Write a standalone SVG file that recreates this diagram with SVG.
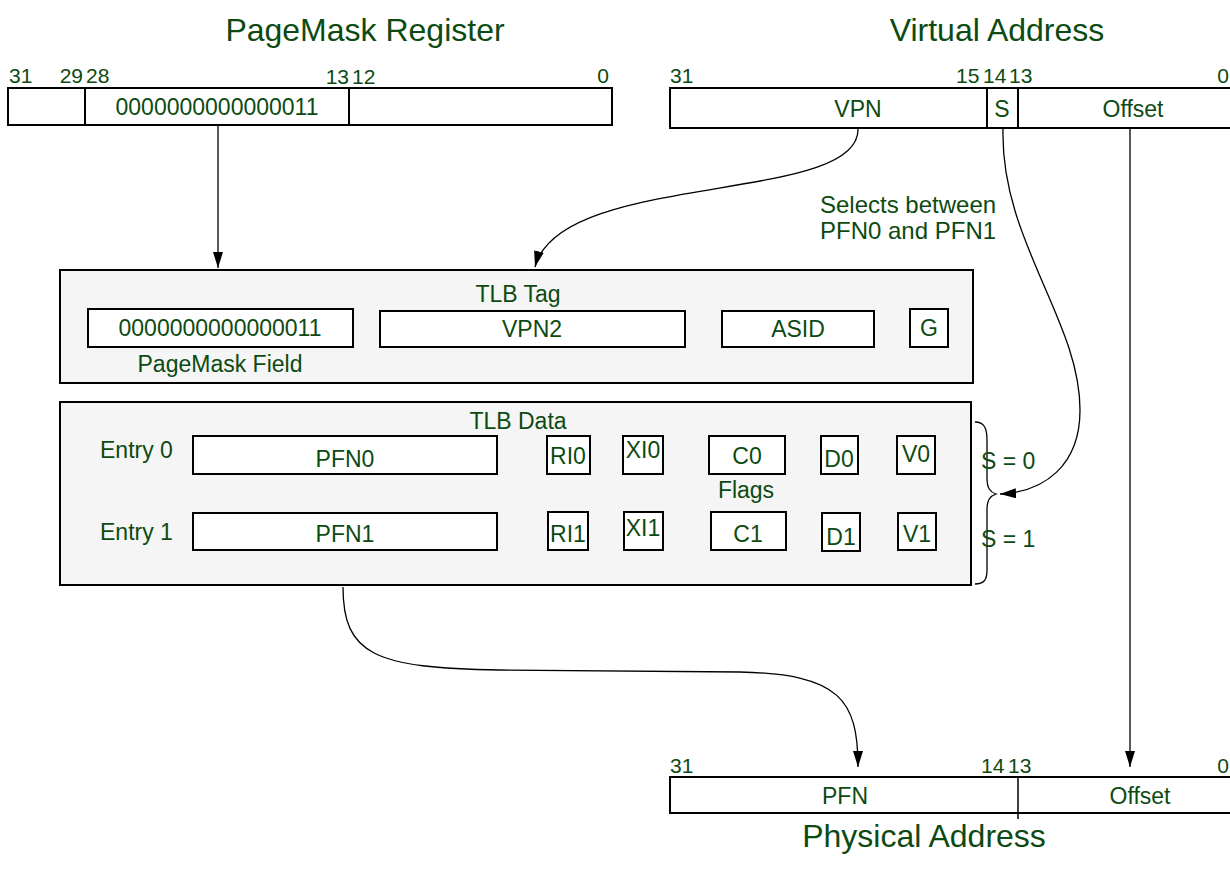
<svg xmlns="http://www.w3.org/2000/svg" width="1230" height="869" viewBox="0 0 1230 869">
<defs>
<style>
text{font-family:"Liberation Sans",Arial,sans-serif;fill:#0d4a12}
.t{font-size:32px;text-anchor:middle}
.n{font-size:21px}
.ne{font-size:21px;text-anchor:end}
.b{font-size:23px}
.m{font-size:23px;text-anchor:middle}
.s{font-size:24px}
.box{fill:#fff;stroke:#000;stroke-width:2}
.pan{fill:#f5f5f5;stroke:#000;stroke-width:2}
.dv{stroke:#000;stroke-width:2}
.ln{fill:none;stroke:#000;stroke-width:1.3}
</style>
<marker id="ah" viewBox="0 0 16 10" refX="16" refY="5" markerWidth="16" markerHeight="10" markerUnits="userSpaceOnUse" orient="auto">
<path d="M0,0 L16,5 L0,10 Z" fill="#000"/>
</marker>
</defs>
<rect width="1230" height="869" fill="#fff"/>

<g id="pagemask">
<text class="t" x="365" y="41">PageMask Register</text>
<text class="n" x="9" y="83">31</text>
<text class="ne" x="83" y="83">29</text>
<text class="n" x="86" y="83">28</text>
<text class="ne" x="349" y="84">13</text>
<text class="n" x="352" y="84">12</text>
<text class="ne" x="609" y="83">0</text>
<rect class="box" x="8" y="88" width="604" height="37"/>
<line class="dv" x1="85" y1="88" x2="85" y2="125"/>
<line class="dv" x1="349" y1="88" x2="349" y2="125"/>
<text class="m" x="217" y="115">0000000000000011</text>
</g>

<g id="virtual">
<text class="t" x="997" y="41">Virtual Address</text>
<text class="n" x="670" y="83">31</text>
<text class="n" x="956" y="83">15</text>
<text class="n" x="983" y="83">14</text>
<text class="n" x="1009" y="83">13</text>
<text class="ne" x="1229" y="83">0</text>
<rect class="box" x="670" y="88" width="570" height="40"/>
<line class="dv" x1="987" y1="88" x2="987" y2="128"/>
<line class="dv" x1="1018" y1="88" x2="1018" y2="128"/>
<text class="m" x="858" y="117">VPN</text>
<text class="m" x="1002" y="117">S</text>
<text class="m" x="1133" y="117">Offset</text>
</g>

<g id="note">
<text class="s" x="820" y="213">Selects between</text>
<text class="s" x="820" y="239">PFN0 and PFN1</text>
</g>

<g id="tlbtag">
<rect class="pan" x="60" y="270" width="913" height="113"/>
<text class="m" x="518" y="302">TLB Tag</text>
<rect class="box" x="88" y="309" width="265" height="38"/>
<text class="m" x="220" y="336">0000000000000011</text>
<text class="m" x="220" y="372">PageMask Field</text>
<rect class="box" x="380" y="311" width="305" height="36"/>
<text class="m" x="532" y="337">VPN2</text>
<rect class="box" x="722" y="311" width="152" height="36"/>
<text class="m" x="798" y="337">ASID</text>
<rect class="box" x="910" y="309" width="38" height="38"/>
<text class="m" x="929" y="336">G</text>
</g>

<g id="tlbdata">
<rect class="pan" x="60" y="402" width="911" height="183"/>
<text class="m" x="518" y="429">TLB Data</text>
<text class="b" x="100" y="458">Entry 0</text>
<rect class="box" x="193" y="436" width="304" height="38"/>
<text class="m" x="345" y="467">PFN0</text>
<rect class="box" x="547" y="436" width="43" height="38"/>
<text class="m" x="568" y="464">RI0</text>
<rect class="box" x="623" y="436" width="40" height="38"/>
<text class="m" x="643" y="458">XI0</text>
<rect class="box" x="709" y="436" width="76" height="38"/>
<text class="m" x="747" y="464">C0</text>
<rect class="box" x="821" y="436" width="37" height="38"/>
<text class="m" x="839" y="467">D0</text>
<rect class="box" x="897" y="436" width="38" height="38"/>
<text class="m" x="916" y="462">V0</text>
<text class="m" x="746" y="498">Flags</text>
<text class="b" x="100" y="540">Entry 1</text>
<rect class="box" x="193" y="513" width="304" height="37"/>
<text class="m" x="345" y="542">PFN1</text>
<rect class="box" x="548" y="512" width="40" height="38"/>
<text class="m" x="568" y="542">RI1</text>
<rect class="box" x="624" y="512" width="39" height="38"/>
<text class="m" x="643" y="536">XI1</text>
<rect class="box" x="711" y="512" width="75" height="38"/>
<text class="m" x="748" y="542">C1</text>
<rect class="box" x="822" y="513" width="38" height="38"/>
<text class="m" x="841" y="545">D1</text>
<rect class="box" x="898" y="513" width="38" height="37"/>
<text class="m" x="917" y="542">V1</text>
<path class="ln" d="M975,422 C984,422 987,428 987,440 L987,478 C987,488 990,492 996,494 C990,496 987,500 987,510 L987,570 C987,580 984,584 975,584"/>
<text class="b" x="981" y="469">S = 0</text>
<text class="b" x="981" y="547">S = 1</text>
</g>

<g id="physical">
<text class="n" x="670" y="773">31</text>
<text class="n" x="981" y="773">14</text>
<text class="n" x="1008" y="773">13</text>
<text class="ne" x="1229" y="773">0</text>
<rect class="box" x="670" y="777" width="570" height="36"/>
<line x1="1018" y1="777" x2="1018" y2="819" stroke="#000" stroke-width="1.5"/>
<text class="m" x="845" y="804">PFN</text>
<text class="m" x="1140" y="804">Offset</text>
<text class="t" x="924" y="847">Physical Address</text>
</g>

<g id="connectors">
<path class="ln" d="M218,125 L218,268" marker-end="url(#ah)"/>
<path class="ln" d="M858,128 C862,205 560,170 535,267" marker-end="url(#ah)"/>
<path class="ln" d="M1003,128 C1000,240 1080,320 1080,410 C1080,465 1045,492 1000,494" marker-end="url(#ah)"/>
<path class="ln" d="M1130,128 L1130,767" marker-end="url(#ah)"/>
<path class="ln" d="M343,587 C343,655 375,668 500,670 L740,672 C840,674 858,700 858,767" marker-end="url(#ah)"/>
</g>
</svg>
